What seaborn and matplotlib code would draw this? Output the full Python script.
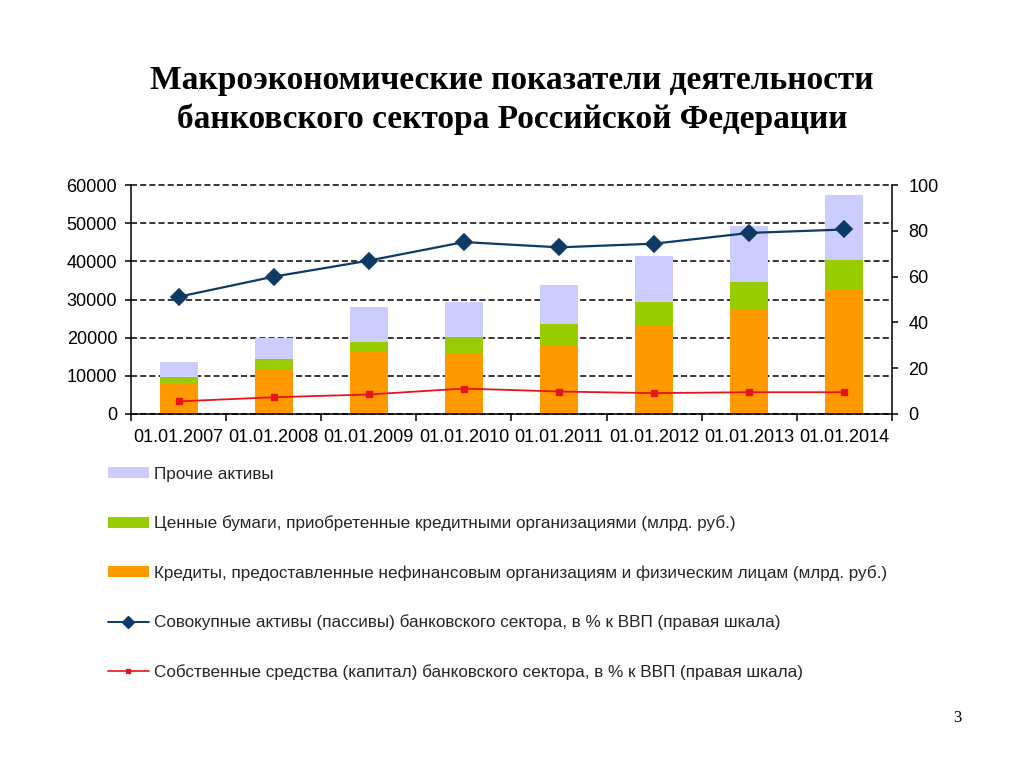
import matplotlib
matplotlib.use('Agg')
import matplotlib.pyplot as plt
import seaborn as sns
import numpy as np
import pandas as pd
from matplotlib.ticker import FixedLocator, MultipleLocator
from matplotlib.patches import Patch
from matplotlib.lines import Line2D

dates = ['01.01.2007', '01.01.2008', '01.01.2009', '01.01.2010',
         '01.01.2011', '01.01.2012', '01.01.2013', '01.01.2014']
credits = [7900, 11900, 16200, 16000, 17950, 23300, 27600, 32400]
securities = [1900, 2500, 2700, 4200, 5750, 6100, 7000, 8000]
other = [3800, 5500, 9200, 9200, 10000, 12100, 14800, 16900]
assets_gdp = [51.2, 60.0, 67.0, 75.1, 72.8, 74.4, 79.1, 80.6]
capital_gdp = [5.5, 7.3, 8.5, 11.1, 9.8, 9.1, 9.5, 9.5]

labels = ['Прочие активы',
          'Ценные бумаги, приобретенные кредитными организациями (млрд. руб.)',
          'Кредиты, предоставленные нефинансовым организациям и физическим лицам (млрд. руб.)',
          'Совокупные активы (пассивы) банковского сектора, в % к ВВП (правая шкала)',
          'Собственные средства (капитал) банковского сектора, в % к ВВП (правая шкала)']

C_OTHER = '#CCCCFF'
C_SEC = '#99CC00'
C_CRED = '#FF9900'
C_ASSETS = '#0D3B66'
C_CAP = '#E8141B'

sns.set_theme(style='white')
plt.rcParams['font.family'] = ['Liberation Sans', 'DejaVu Sans']

df = pd.DataFrame({'date': dates, 'credits': credits,
                   'securities': securities, 'other': other})
df['lvl2'] = df['credits'] + df['securities']
df['lvl3'] = df['lvl2'] + df['other']

fig = plt.figure(figsize=(10.24, 7.68), dpi=100)
ax = fig.add_axes([0.128, 0.461, 0.743, 0.298])

sns.barplot(data=df, x='date', y='lvl3', color=C_OTHER, saturation=1,
            width=0.4, ax=ax, errorbar=None, linewidth=0)
sns.barplot(data=df, x='date', y='lvl2', color=C_SEC, saturation=1,
            width=0.4, ax=ax, errorbar=None, linewidth=0)
sns.barplot(data=df, x='date', y='credits', color=C_CRED, saturation=1,
            width=0.4, ax=ax, errorbar=None, linewidth=0)

ax.set_ylim(0, 60000)
ax.yaxis.set_major_locator(MultipleLocator(10000))
ax.set_axisbelow(True)
ax.yaxis.grid(True, color='black', linestyle=(0, (4, 2)), linewidth=1.1)
ax.xaxis.grid(False)
ax.set_xlabel('')
ax.set_ylabel('')

ax2 = ax.twinx()
sns.pointplot(x=dates, y=assets_gdp, ax=ax2, color=C_ASSETS, markers='D',
              errorbar=None, markersize=8, linewidth=1.6)
sns.pointplot(x=dates, y=capital_gdp, ax=ax2, color=C_CAP, markers='s',
              errorbar=None, markersize=5, linewidth=1.3)
ax2.set_ylim(0, 100)
ax2.yaxis.set_major_locator(MultipleLocator(20))
ax2.grid(False)
ax2.set_ylabel('')
ax2.set_xlabel('')

n = len(dates)
ax.set_xlim(-0.5, n - 0.5)
ax.xaxis.set_major_locator(FixedLocator(np.arange(n)))
ax.set_xticklabels(dates)
ax.xaxis.set_minor_locator(FixedLocator(np.arange(n + 1) - 0.5))
ax.tick_params(axis='x', which='major', length=0, pad=11, labelsize=13, colors='black')
ax.tick_params(axis='x', which='minor', length=5, width=1.1, direction='out',
               bottom=True, color='black')
ax.tick_params(axis='y', which='major', length=4, width=1.1, direction='out',
               left=True, pad=6, labelsize=13, colors='black')
ax2.tick_params(axis='y', which='major', length=4, width=1.1, direction='out',
                right=True, pad=8, labelsize=13, colors='black')

for gl in ax.get_ygridlines():
    gl.set_clip_on(False)

for a in (ax, ax2):
    a.spines['top'].set_visible(False)
    for s in ('left', 'right', 'bottom'):
        a.spines[s].set_color('black')
        a.spines[s].set_linewidth(1.1)
ax.spines['right'].set_visible(False)
ax2.spines['left'].set_visible(False)
ax2.spines['bottom'].set_visible(False)

handles = [Patch(facecolor=C_OTHER, edgecolor='none'),
           Patch(facecolor=C_SEC, edgecolor='none'),
           Patch(facecolor=C_CRED, edgecolor='none'),
           Line2D([], [], color=C_ASSETS, marker='D', markersize=6, linewidth=1.4),
           Line2D([], [], color=C_CAP, marker='s', markersize=3.5, linewidth=1.2)]
fig.legend(handles, labels, loc='upper left', bbox_to_anchor=(0.105, 0.392),
           frameon=False, fontsize=12.3, labelspacing=1.97, handlelength=2.45,
           handletextpad=0.25, borderpad=0, borderaxespad=0, handleheight=0.6)

fig.text(0.5, 0.870,
         'Макроэкономические показатели деятельности\nбанковского сектора Российской Федерации',
         ha='center', va='center', family='Liberation Serif', weight='bold',
         fontsize=24, linespacing=1.3, color='black')
fig.text(0.935, 0.065, '3', family='Liberation Serif', fontsize=12, color='black',
         ha='center', va='center')

fig.savefig('out.png', dpi=100, facecolor='white')
